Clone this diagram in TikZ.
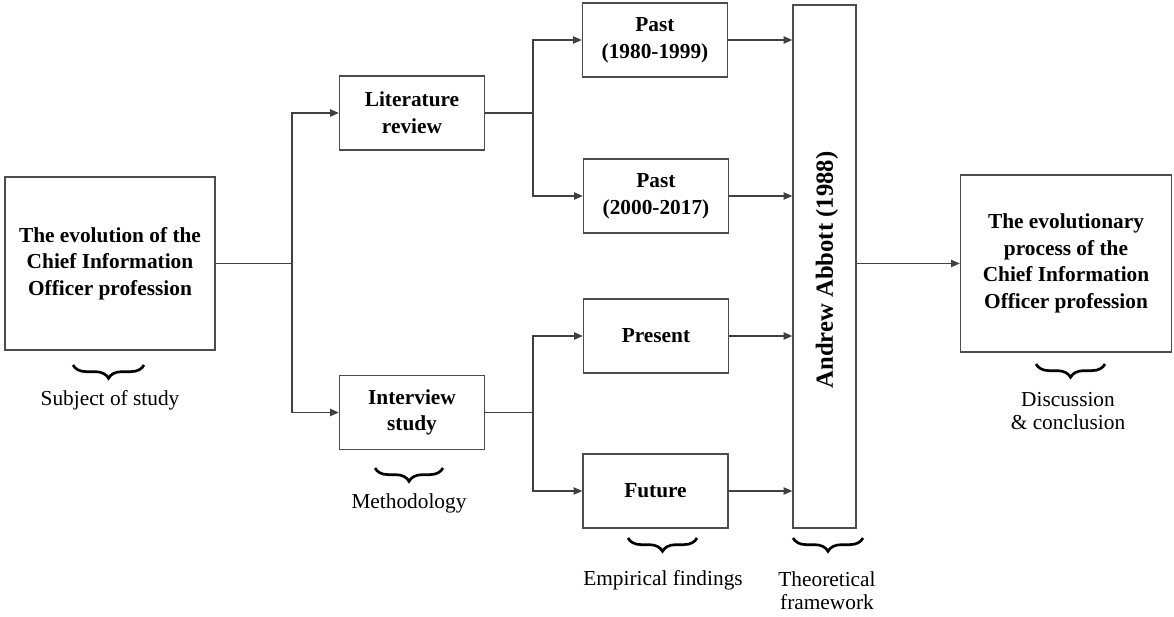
\documentclass[tikz,border=0pt]{standalone}
\usepackage{fontspec}
\setmainfont{Liberation Serif}
\usetikzlibrary{arrows.meta,decorations.pathreplacing}

\begin{document}
\begin{tikzpicture}[x=0.75pt,y=-0.75pt,
  box/.style={draw=black!70,line width=1.1pt,align=center,inner sep=0pt,
    font=\bfseries\fontsize{16}{20}\selectfont},
  small/.style={box,minimum width=108.75pt,minimum height=55.5pt},
  link/.style={draw=black!75,line width=0.9pt},
  arr/.style={link,-{Triangle[length=6.5pt,width=5.5pt]}},
  curly/.style={decorate,decoration={brace,mirror,amplitude=10pt},line width=2pt},
  note/.style={align=center,font=\fontsize{16}{17.25}\selectfont}]
  \useasboundingbox (0,0) rectangle (1174,617);

  % boxes
  \node[box,minimum width=157.5pt,minimum height=129.75pt] (evol) at (110,263.5)
    {The evolution of the\\Chief Information\\Officer profession};
  \node[small] (lit) at (412,113) {Literature\\review};
  \node[small] (inter) at (412,412.5) {Interview\\study};
  \node[small] (past1) at (655,40) {Past\\(1980-1999)};
  \node[small] (past2) at (656,196) {Past\\(2000-2017)};
  \node[small] (present) at (656,336) {Present};
  \node[small] (future) at (655.5,491) {Future};
  \node[box,minimum width=47.25pt,minimum height=392.25pt] (abbott) at (824.5,266.5) {};
  \node[rotate=90,font=\bfseries\fontsize{18.5}{20}\selectfont] (abbotttxt) at (827,270)
    {Andrew Abbott (1988)};
  \node[box,minimum width=158.25pt,minimum height=132.75pt] (result) at (1066,263.5)
    {The evolutionary\\process of the\\Chief Information\\Officer profession};

  % branch points
  \coordinate (j1) at (292,263.5);
  \coordinate (j2) at (533,113);
  \coordinate (j3) at (533,412.5);

  % connectors
  \draw[link] (evol.east) -- (j1);
  \draw[arr] (j1) |- (lit.west);
  \draw[arr] (j1) |- (inter.west);
  \draw[link] (lit.east) -- (j2);
  \draw[arr] (j2) |- (past1.west);
  \draw[arr] (j2) |- (past2.west);
  \draw[link] (inter.east) -- (j3);
  \draw[arr] (j3) |- (present.west);
  \draw[arr] (j3) |- (future.west);
  \foreach \n in {past1,past2,present,future}
    \draw[arr] (\n.east) -- (\n.east -| abbott.west);
  \draw[arr] (result.west -| abbott.east) -- (result.west);

  % braces and their labels
  \draw[curly] (73,365) -- (144,365);
  \node[note] (subj) at (110,400) {Subject of study};
  \draw[curly] (375,468) -- (443,468);
  \node[note] (method) at (409,503) {Methodology};
  \draw[curly] (628,538) -- (697,538);
  \node[note] (empir) at (663,580) {Empirical findings};
  \draw[curly] (793,538) -- (863,538);
  \node[note] (theory) at (827,591) {Theoretical\\framework};
  \draw[curly] (1036,364) -- (1105,364);
  \node[note] (discuss) at (1068,411) {Discussion\\\& conclusion};
\end{tikzpicture}
\end{document}
